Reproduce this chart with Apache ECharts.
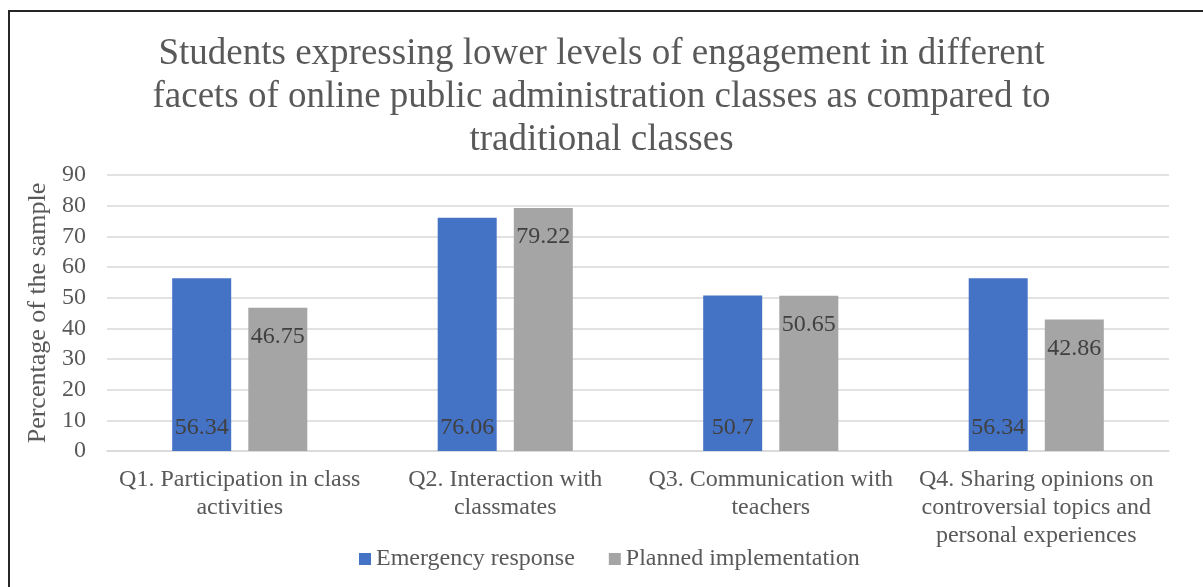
<!DOCTYPE html>
<html>
<head>
<meta charset="utf-8">
<script src="https://cdn.jsdelivr.net/npm/echarts@6/dist/echarts.min.js"></script>
<style>html,body{margin:0;padding:0;background:#fff}#c{width:1203px;height:587px}</style>
</head>
<body>
<div id="c"></div>
<script>
var titleText = 'Students expressing lower levels of engagement in different\nfacets of online public administration classes as compared to\ntraditional classes';
var categories = ['Q1. Participation in class\nactivities', 'Q2. Interaction with\nclassmates', 'Q3. Communication with\nteachers', 'Q4. Sharing opinions on\ncontroversial topics and\npersonal experiences'];
var emergency = [56.34, 76.06, 50.7, 56.34];
var planned = [46.75, 79.22, 50.65, 42.86];
var seriesNames = ['Emergency response', 'Planned implementation'];
var yName = 'Percentage of the sample';

var FONT = '"Liberation Serif", "Times New Roman", serif';
var chart = echarts.init(document.getElementById('c'));
chart.setOption({
  animation: false,
  textStyle: {fontFamily: FONT},
  graphic: [{
    type: 'rect', shape: {x: 9, y: 11, width: 1400, height: 1000},
    style: {fill: 'none', stroke: '#262626', lineWidth: 2}, silent: true, z: -1
  }],
  title: {
    text: titleText, left: 'center', top: 33, padding: 0,
    textStyle: {fontFamily: FONT, fontSize: 37, fontWeight: 'normal', color: '#595959', lineHeight: 43}
  },
  legend: {
    bottom: 11, left: 354, itemWidth: 12, itemHeight: 12, itemGap: 34,
    icon: 'rect',
    textStyle: {fontFamily: FONT, fontSize: 24, color: '#595959'},
    data: seriesNames
  },
  grid: {left: 107, right: 34, top: 175, bottom: 136},
  xAxis: {
    type: 'category', data: categories,
    axisLine: {lineStyle: {color: '#D9D9D9', width: 1.5}},
    axisTick: {show: false},
    axisLabel: {fontFamily: FONT, fontSize: 24, color: '#595959', lineHeight: 28, margin: 15, interval: 0}
  },
  yAxis: {
    type: 'value', min: 0, max: 90, interval: 10,
    name: yName, nameLocation: 'middle', nameGap: 53, nameRotate: 90,
    nameTextStyle: {fontFamily: FONT, fontSize: 26, color: '#595959'},
    axisLine: {show: false}, axisTick: {show: false},
    axisLabel: {fontFamily: FONT, fontSize: 24, color: '#595959', margin: 21},
    splitLine: {lineStyle: {color: '#D9D9D9', width: 1.5}}
  },
  series: [{
    name: seriesNames[0], type: 'bar', data: emergency, barWidth: 59, barGap: '29%',
    itemStyle: {color: '#4472C4'},
    label: {show: true, position: 'insideBottom', distance: 11, fontFamily: FONT, fontSize: 24, color: '#404040'}
  }, {
    name: seriesNames[1], type: 'bar', data: planned, barWidth: 59,
    itemStyle: {color: '#A5A5A5'},
    label: {show: true, position: 'insideTop', distance: 17, fontFamily: FONT, fontSize: 24, color: '#404040'}
  }]
});
</script>
</body>
</html>
